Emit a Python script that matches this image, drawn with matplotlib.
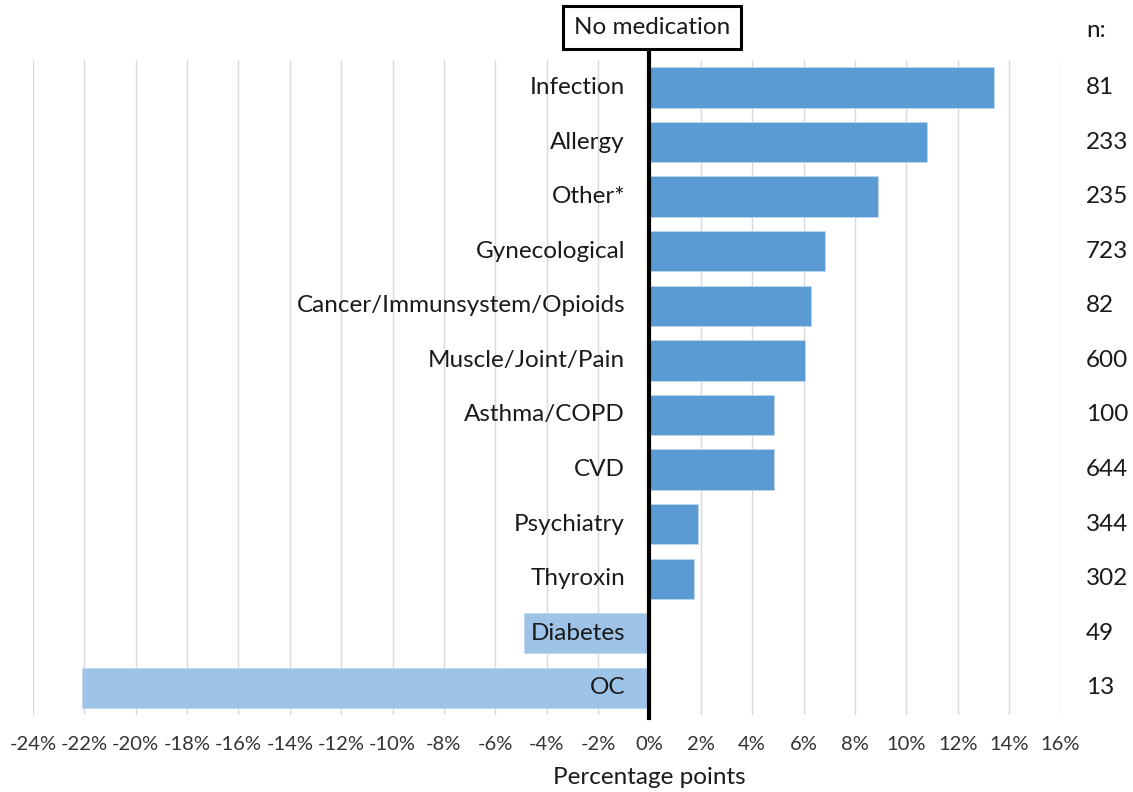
import matplotlib
matplotlib.use('Agg')
import matplotlib.pyplot as plt
from matplotlib.ticker import FuncFormatter

plt.rcParams['font.family'] = ['Lato', 'DejaVu Sans']

# data (top to bottom)
categories = ['Infection', 'Allergy', 'Other*', 'Gynecological',
              'Cancer/Immunsystem/Opioids', 'Muscle/Joint/Pain', 'Asthma/COPD',
              'CVD', 'Psychiatry', 'Thyroxin', 'Diabetes', 'OC']
values = [13.4, 10.8, 8.9, 6.85, 6.3, 6.05, 4.85, 4.85, 1.9, 1.75, -4.9, -22.1]
n_counts = [81, 233, 235, 723, 82, 600, 100, 644, 344, 302, 49, 13]
x_ticks = list(range(-24, 17, 2))

pos_color = '#5B9BD5'
neg_color = '#9DC3E6'
txt_color = '#1a1a1a'
fs = 17.5

fig = plt.figure(figsize=(11.33, 7.92), dpi=100)
ax = fig.add_axes([0.029, 0.097, 0.907, 0.827])

ypos = list(range(len(categories)))[::-1]
colors = [pos_color if v >= 0 else neg_color for v in values]
ax.barh(ypos, values, height=0.74, color=colors, edgecolor='#BDD7EE',
        linewidth=0.6, zorder=2)

ax.set_xlim(-24, 16)
ax.set_ylim(-0.5, len(categories) - 0.5)
ax.set_xticks(x_ticks)
ax.xaxis.set_major_formatter(FuncFormatter(lambda v, p: f'{v:.0f}%'))
ax.tick_params(axis='x', length=0, pad=15, labelsize=14.5, colors='#333333')
ax.set_yticks([])
ax.grid(True, axis='x', color='#D9D9D9', linewidth=1, zorder=0)
for s in ax.spines.values():
    s.set_visible(False)

# category labels just left of the zero line
for y, c in zip(ypos, categories):
    ax.text(-0.95, y, c, ha='right', va='center', fontsize=fs,
            color=txt_color, zorder=3)

# zero line + header box
ax.axvline(0, ymin=-0.005, ymax=1.02, color='black', linewidth=3,
           clip_on=False, zorder=4)
ax.text(0.1, len(categories) - 0.5 + 0.6, 'No medication', ha='center',
        va='center', fontsize=fs, color=txt_color, zorder=5,
        bbox=dict(boxstyle='square,pad=0.45', facecolor='white',
                  edgecolor='black', linewidth=2.2))

# n column
ax.text(17.0, len(categories) - 0.5 + 0.55, 'n:', ha='left', va='center',
        fontsize=fs, color=txt_color, clip_on=False)
for y, n in zip(ypos, n_counts):
    ax.text(17.0, y, str(n), ha='left', va='center', fontsize=fs,
            color=txt_color, clip_on=False)

ax.text(0, -1.64, 'Percentage points', ha='center', va='center',
        fontsize=fs, color=txt_color, clip_on=False)

fig.savefig('out.png', dpi=100, facecolor='white')
